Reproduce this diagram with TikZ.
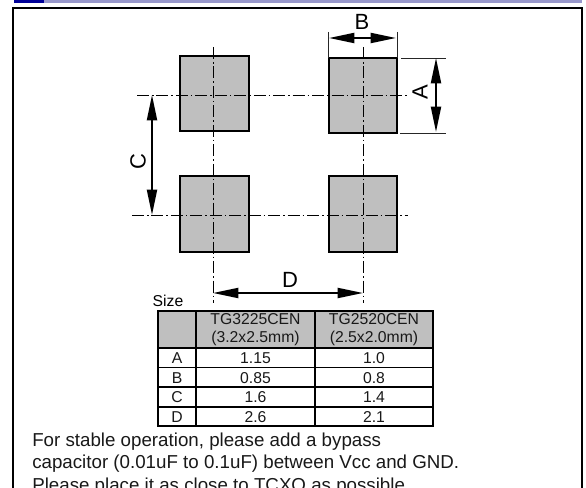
\documentclass[tikz,border=0pt]{standalone}
\usepackage{fontspec}
\setmainfont{Liberation Sans}
\usetikzlibrary{arrows.meta}
\definecolor{padgray}{gray}{0.75}
\definecolor{band}{HTML}{9999CC}
\definecolor{navy}{HTML}{000099}
\tikzset{x=0.75pt,y=-0.75pt,
 pad/.style={draw=black,line width=1.5pt,fill=padgray},
 cline/.style={draw=black,line width=0.7pt,dash pattern=on 9pt off 2.2pt on 1.2pt off 2.2pt},
 ext/.style={draw=black!85,line width=0.7pt},
 dim/.style={draw=black,line width=1.5pt,{Triangle[length=19pt,width=7.5pt]}-{Triangle[length=19pt,width=7.5pt]}},
 lab/.style={font=\fontsize{16.5}{18}\selectfont,inner sep=0pt},
 cell/.style={font=\fontsize{11.8}{13.5}\selectfont,inner sep=0pt,align=center,text=black!90},
 note/.style={font=\fontsize{14.05}{15}\selectfont,inner sep=0pt,anchor=base west,text=black!90},
 grid/.style={draw=black,line width=1.2pt}}
\begin{document}
\begin{tikzpicture}
\useasboundingbox (0,0) rectangle (586,488);
\clip (0,0) rectangle (586,488);
\fill[white] (0,0) rectangle (586,488);
\fill[band] (14,0) rectangle (582,3);
\fill[navy] (14,0) rectangle (44,3);
\draw[black,line width=1.1pt] (13,8) rectangle (582,492);
% pads
\path[pad] (180,56) rectangle (249,131);
\path[pad] (329,58) rectangle (397,133);
\path[pad] (180,176) rectangle (249,252);
\path[pad] (329,176) rectangle (397,252);
% centre lines
\coordinate (h1a) at (137,95); \coordinate (h1b) at (408,95);
\coordinate (h2a) at (132,215); \coordinate (h2b) at (408,215);
\coordinate (v1a) at (213,47); \coordinate (v1b) at (213,303);
\coordinate (v2a) at (363,47); \coordinate (v2b) at (363,303);
\draw[cline] (h1a)--(h1b); \draw[cline] (h2a)--(h2b);
\draw[cline] (v1a)--(v1b); \draw[cline] (v2a)--(v2b);
% dims
\coordinate (ba) at (329,38); \coordinate (bb) at (396,38);
\draw[ext] (328,32)--(328,58); \draw[ext] (397,32)--(397,58);
\draw[dim] (ba)--(bb);
\node[lab] (lB) at (362,22) {B};
\coordinate (aa) at (436,58); \coordinate (ab) at (436,132);
\draw[ext] (401,58)--(446,58); \draw[ext] (400,133)--(446,133);
\draw[dim] (aa)--(ab);
\node[lab,rotate=90] (lA) at (420,92) {A};
\coordinate (ca) at (152,95); \coordinate (cb) at (152,215);
\draw[dim] (ca)--(cb);
\node[lab,rotate=90] (lC) at (138,162) {C};
\coordinate (da) at (213,293); \coordinate (db) at (363,293);
\draw[dim] (da)--(db);
\node[lab] (lD) at (290,280) {D};
\node[font=\fontsize{11.8}{13}\selectfont,inner sep=0pt] (sz) at (168,300.5) {Size};
% table
\fill[padgray] (158,311) rectangle (433,348);
\draw[grid] (158,311) rectangle (433,426);
\draw[grid] (196,311)--(196,426);
\draw[grid] (315,311)--(315,426);
\draw[grid] (158,348)--(433,348);
\draw[grid] (158,367.5)--(433,367.5);
\draw[grid] (158,387)--(433,387);
\draw[grid] (158,407)--(433,407);
\node[cell] (h1) at (255.5,330) {TG3225CEN\\(3.2x2.5mm)};
\node[cell] (h2) at (374,330) {TG2520CEN\\(2.5x2.0mm)};
\node[cell] at (177,358.5) {A}; \node[cell] at (255.5,358.5) {1.15}; \node[cell] at (374,358.5) {1.0};
\node[cell] at (177,378) {B}; \node[cell] at (255.5,378) {0.85}; \node[cell] at (374,378) {0.8};
\node[cell] at (177,397.5) {C}; \node[cell] at (255.5,397.5) {1.6}; \node[cell] at (374,397.5) {1.4};
\node[cell] at (177,417) {D}; \node[cell] at (255.5,417) {2.6}; \node[cell] at (374,417) {2.1};
% note
\node[note] (n1) at (32,447) {For stable operation, please add a bypass};
\node[note] (n2) at (32,469) {capacitor (0.01uF to 0.1uF) between Vcc and GND.};
\node[note] (n3) at (32,491) {Please place it as close to TCXO as possible.};
\end{tikzpicture}
\end{document}
